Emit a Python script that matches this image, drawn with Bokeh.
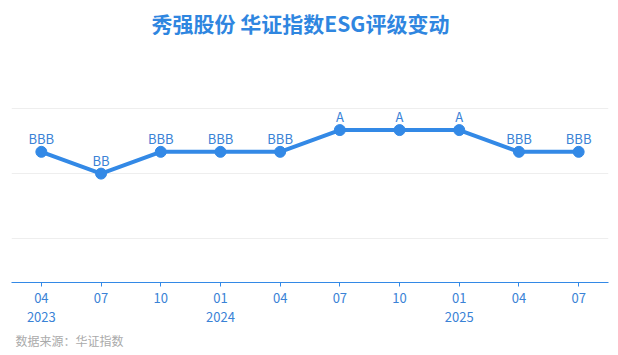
from bokeh.plotting import figure
from bokeh.models import ColumnDataSource, FixedTicker, Range1d, LabelSet, Title, Label
from bokeh.core.properties import value
from bokeh.embed import file_html
from bokeh.resources import INLINE

months = ["04", "07", "10", "01", "04", "07", "10", "01", "04", "07"]
years = ["2023", "", "", "2024", "", "", "", "2025", "", ""]
ratings = ["BBB", "BB", "BBB", "BBB", "BBB", "A", "A", "A", "BBB", "BBB"]
scale = ["CC", "CCC", "B", "BB", "BBB", "A", "AA", "AAA"]
grid_levels = ["CC", "BB", "AA"]

FONT = "Noto Sans CJK SC"
BLUE = "#3389e6"
TXT = "#3a82d6"

xs = list(range(len(months)))
ys = [scale.index(r) for r in ratings]
src = ColumnDataSource(dict(x=xs, y=ys, r=ratings))

p = figure(width=618, height=355, output_backend="svg", toolbar_location=None,
           x_range=Range1d(-0.5, len(months) - 0.5), y_range=Range1d(-2, 10.95),
           min_border_left=11, min_border_right=10, min_border_top=0, min_border_bottom=73)
p.title = None
p.outline_line_color = None
p.yaxis.visible = False
p.xgrid.visible = False
p.ygrid.ticker = FixedTicker(ticks=[scale.index(g) for g in grid_levels])
p.ygrid.grid_line_color = "#eeeeee"
p.ygrid.grid_line_width = 1

p.xaxis.ticker = FixedTicker(ticks=xs)
p.xaxis.major_label_overrides = {i: (m + ("\n" + y if y else "")) for i, (m, y) in enumerate(zip(months, years))}
p.xaxis.axis_line_color = BLUE
p.xaxis.major_tick_line_color = BLUE
p.xaxis.major_tick_out = 4
p.xaxis.major_tick_in = 0
p.xaxis.minor_tick_line_color = None
p.xaxis.major_label_text_color = TXT
p.xaxis.major_label_text_font = FONT
p.xaxis.major_label_text_font_size = "13px"
p.xaxis.major_label_text_line_height = 1.05
p.xaxis.major_label_standoff = 1
p.xaxis.axis_label_standoff = 0

p.line("x", "y", source=src, line_color=BLUE, line_width=4)
p.scatter("x", "y", source=src, size=11, fill_color=BLUE, line_color=BLUE)
p.add_layout(LabelSet(x="x", y="y", text="r", source=src, y_offset=4, text_align="center",
                      text_baseline="bottom", text_color=TXT, text_font=value(FONT),
                      text_font_size=value("13px")))

p.add_layout(Label(x=289, y=260, x_units="screen", y_units="screen", text="秀强股份 华证指数ESG评级变动",
                   text_align="center", text_baseline="middle", text_font=FONT, text_font_size="21px",
                   text_font_style="bold", text_color="#2f86e0"))

p.add_layout(Title(text="数据来源：华证指数", align="left", offset=4, standoff=0,
                   text_font=FONT, text_font_size="12px", text_font_style="normal",
                   text_color="#aaaaaa"), "below")

open("out.html", "w").write(file_html(p, INLINE))
